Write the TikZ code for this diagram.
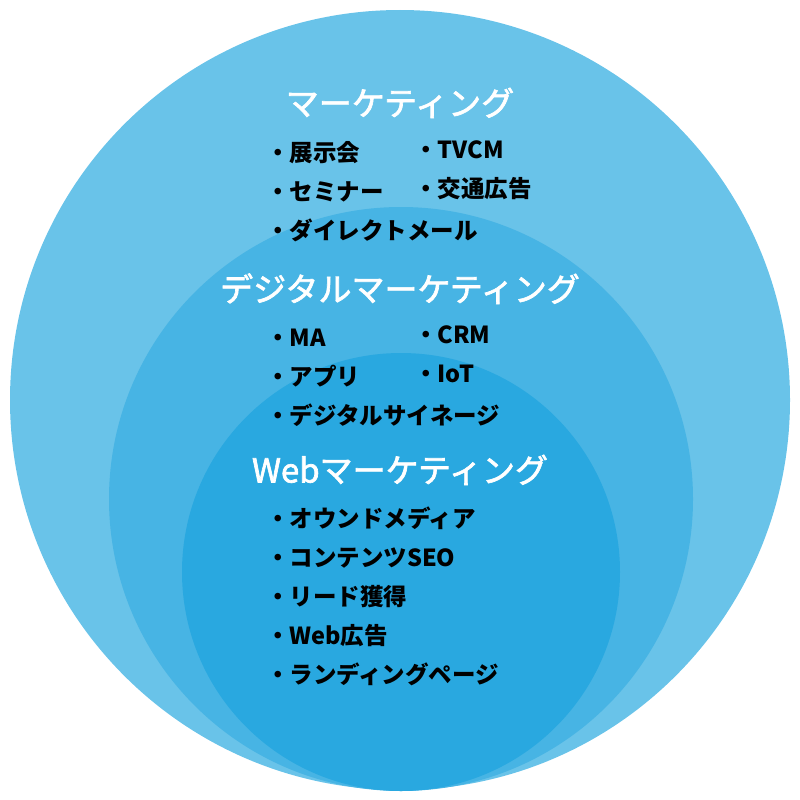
\documentclass[tikz,border=0pt]{standalone}
\usepackage{fontspec}
\setmainfont{Noto Sans CJK JP}
\newfontfamily\headfont[FakeBold=2]{Noto Sans CJK JP}
\definecolor{outerblue}{RGB}{105,195,233}
\definecolor{midblue}{RGB}{71,180,228}
\definecolor{innerblue}{RGB}{41,168,224}
\begin{document}
\begin{tikzpicture}[
    x=1pt, y=-1pt,
    node distance=39pt,
    heading/.style={text=white, inner sep=0pt, text height=27pt, text depth=6pt,
                    font=\headfont\fontsize{33}{33}\selectfont},
    item/.style={text width=250pt, align=left, inner sep=0pt, text height=20pt,
                 text depth=4pt, font=\bfseries\fontsize{23.5}{23.5}\selectfont}
]
\useasboundingbox (0,0) rectangle (800,800);
\fill [outerblue] (400,400) circle (390pt);
\fill [midblue] (401,499) circle (292pt);
\fill [innerblue] (401,572) circle (219pt);

\node (mkt) [heading] at (400,105) {マーケティング};
\node (expo) [item] at (391,153) {・展示会};
\node (seminar) [item, below of=expo] {・セミナー};
\node (dm) [item, below of=seminar] {・ダイレクトメール};
\node (tvcm) [item, right of=expo, node distance=148pt, yshift=3pt] {・TVCM};
\node (transit) [item, right of=seminar, node distance=148pt, yshift=3pt] {・交通広告};

\node (digital) [heading] at (400,291) {デジタルマーケティング};
\node (ma) [item] at (391,338) {・MA};
\node (app) [item, below of=ma] {・アプリ};
\node (signage) [item, below of=app] {・デジタルサイネージ};
\node (crm) [item, right of=ma, node distance=148pt, yshift=3pt] {・CRM};
\node (iot) [item, right of=app, node distance=148pt, yshift=3pt] {・IoT};

\node (web) [heading] at (400,472) {Webマーケティング};
\node (owned) [item] at (391,519) {・オウンドメディア};
\node (seo) [item, below of=owned] {・コンテンツSEO};
\node (lead) [item, below of=seo] {・リード獲得};
\node (webad) [item, below of=lead] {・Web広告};
\node (lp) [item, below of=webad] {・ランディングページ};
\end{tikzpicture}
\end{document}
